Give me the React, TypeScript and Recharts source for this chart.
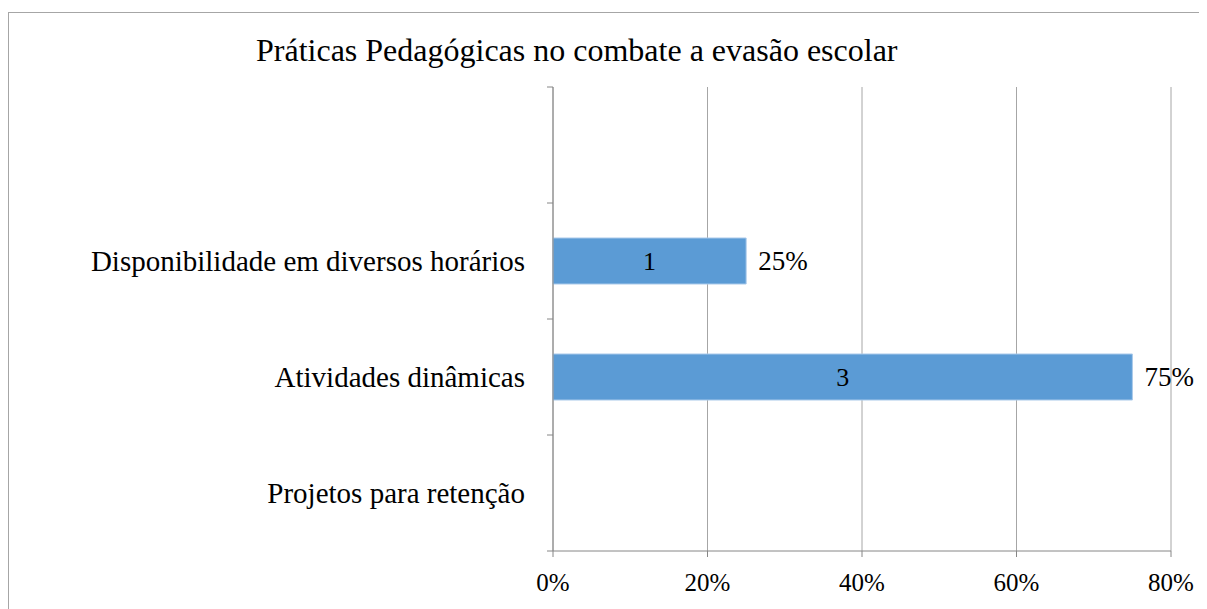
import { Bar, BarChart, CartesianGrid, LabelList, XAxis, YAxis } from 'recharts'

const categories = ['', 'Disponibilidade em diversos horários', 'Atividades dinâmicas', 'Projetos para retenção']
const percents = [null, 0.25, 0.75, null]
const counts = [null, 1, 3, null]
const xTicks = [0, 0.2, 0.4, 0.6, 0.8]

const data = categories.map((name, i) => ({ name, pct: percents[i], count: counts[i] }))

const FONT = '"Liberation Serif", "Times New Roman", serif'
const AXIS = '#868686'
const GRID = '#a6a6a6'

const CHART_W = 1220
const CHART_H = 600
const MARGIN = { top: 74, right: 58, bottom: 22, left: 0 }
const Y_W = 544
const X_H = 40
const PLOT_H = CHART_H - MARGIN.top - MARGIN.bottom - X_H
const BAND = PLOT_H / categories.length

// excel style: tick marks sit between the bands, not at the centre
const CategoryTick = (props: any) => {
  const { x, y, payload, index } = props
  const axisX = MARGIN.left + Y_W
  return (
    <g>
      <line x1={axisX - 6} x2={axisX} y1={y - BAND / 2} y2={y - BAND / 2} stroke={AXIS} />
      {index === categories.length - 1 && (
        <line x1={axisX - 6} x2={axisX} y1={y + BAND / 2} y2={y + BAND / 2} stroke={AXIS} />
      )}
      <text x={x - 20} y={y} dy="0.35em" textAnchor="end" fontSize={29} fontFamily={FONT} fill="#000">
        {payload.value}
      </text>
    </g>
  )
}

const CountLabel = (props: any) => {
  const { x, y, width, height, value } = props
  if (value == null) return null
  return (
    <text x={x + width / 2} y={y + height / 2} dy="0.35em" textAnchor="middle" fontSize={26} fontFamily={FONT} fill="#000">
      {value}
    </text>
  )
}

const PctLabel = (props: any) => {
  const { x, y, width, height, value } = props
  if (value == null) return null
  return (
    <text x={x + width + 12} y={y + height / 2} dy="0.35em" textAnchor="start" fontSize={27} fontFamily={FONT} fill="#000">
      {`${Math.round(value * 100)}%`}
    </text>
  )
}

export default function App() {
  return (
    <div
      style={{
        marginTop: 4,
        position: 'relative',
        width: CHART_W,
        height: CHART_H + 20,
        border: `1px solid ${GRID}`,
        background: '#fff',
        fontFamily: FONT,
      }}
    >
      <div
        style={{
          position: 'absolute',
          left: 247,
          top: 19,
          fontSize: 32,
          whiteSpace: 'nowrap',
          color: '#000',
        }}
      >
        Práticas Pedagógicas no combate a evasão escolar
      </div>
      <BarChart width={CHART_W} height={CHART_H} data={data} layout="vertical" margin={MARGIN}>
        <CartesianGrid horizontal={false} stroke={GRID} verticalValues={xTicks} />
        <XAxis
          type="number"
          domain={[0, 0.8]}
          ticks={xTicks}
          height={X_H}
          tickFormatter={(v) => `${Math.round(v * 100)}%`}
          tick={{ fontSize: 25, fontFamily: FONT, fill: '#000' }}
          tickSize={6}
          tickMargin={16}
          stroke={AXIS}
          interval={0}
        />
        <YAxis
          type="category"
          dataKey="name"
          width={Y_W}
          tick={<CategoryTick />}
          tickLine={false}
          stroke={AXIS}
          interval={0}
        />
        <Bar dataKey="pct" fill="#5b9bd5" stroke="#a9c9ea" strokeWidth={1} barSize={46} isAnimationActive={false}>
          <LabelList dataKey="count" content={<CountLabel />} />
          <LabelList dataKey="pct" content={<PctLabel />} />
        </Bar>
      </BarChart>
    </div>
  )
}
